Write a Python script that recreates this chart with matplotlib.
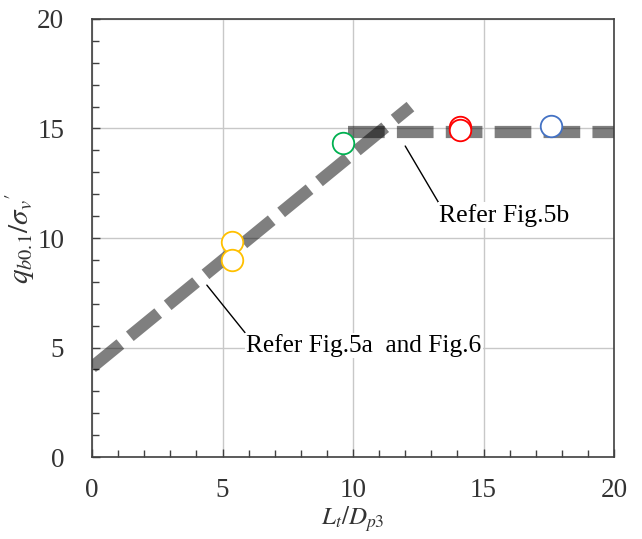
import numpy as np
import matplotlib.pyplot as plt
from matplotlib.ticker import MultipleLocator

plt.rcParams['font.family'] = ['Liberation Serif', 'DejaVu Serif']
plt.rcParams['mathtext.fontset'] = 'stix'

# measured points (Lt/Dp3, qb0.1/sigma_v')
yellow_x = [5.35, 5.35]
yellow_y = [9.82, 9.0]
green_x = [9.6]
green_y = [14.32]
red_x = [14.1, 14.1]
red_y = [15.08, 14.93]
blue_x = [17.6]
blue_y = [15.11]

# trend lines
rise_x = [0.0, 12.2]
rise_y = [4.1, 16.0]
flat_x = [9.8, 20.0]
flat_y = [14.85, 14.85]

fig = plt.figure(figsize=(6.42, 5.39), dpi=100)
ax = fig.add_axes([0.1433, 0.152, 0.8131, 0.8128])

ax.grid(True, which='major', color='#c8c8c8', linewidth=1.0, zorder=0)
ax.set_axisbelow(True)

for xs, ys in [(rise_x, rise_y), (flat_x, flat_y)]:
    ln, = ax.plot(xs, ys, color='black', alpha=0.5, linewidth=8.8,
                  solid_capstyle='butt', dash_capstyle='butt', zorder=2)
    ln.set_dashes((3.0, 1.0))

for xs, ys, c in [(yellow_x, yellow_y, '#FFC000'), (green_x, green_y, '#00B050'),
                  (red_x, red_y, '#FF0000'), (blue_x, blue_y, '#4472C4')]:
    ax.plot(xs, ys, 'o', markersize=15.5, markerfacecolor='white',
            markeredgecolor=c, markeredgewidth=1.3, linestyle='none', zorder=3)

ax.annotate('Refer Fig.5b', xy=(12.0, 14.2), xytext=(13.3, 11.05),
            fontsize=18.5, va='center', ha='left',
            arrowprops=dict(arrowstyle='-', color='black', lw=1.0,
                            shrinkA=0, shrinkB=0, relpos=(0, 1)),
            bbox=dict(facecolor='white', edgecolor='none', pad=1), zorder=4)
ax.annotate('Refer Fig.5a  and Fig.6', xy=(4.4, 7.85), xytext=(5.9, 5.1),
            fontsize=18.3, va='center', ha='left',
            arrowprops=dict(arrowstyle='-', color='black', lw=1.0,
                            shrinkA=0, shrinkB=0, relpos=(0, 1)),
            bbox=dict(facecolor='white', edgecolor='none', pad=1), zorder=4)

ax.set_xlim(0, 20)
ax.set_ylim(0, 20)
ax.xaxis.set_major_locator(MultipleLocator(5))
ax.yaxis.set_major_locator(MultipleLocator(5))
ax.xaxis.set_minor_locator(MultipleLocator(1))
ax.yaxis.set_minor_locator(MultipleLocator(1))
ax.tick_params(which='both', direction='in', color='#404040', width=1.0,
               labelsize=19.5, labelcolor='#333333')
ax.tick_params(which='major', length=6)
ax.tick_params(which='minor', length=5)
ax.tick_params(axis='x', pad=15)
ax.tick_params(axis='y', pad=20)

for s in ax.spines.values():
    s.set_color('#404040')
    s.set_linewidth(1.2)

ax.set_xlabel(r"$L_t/D_{p3}$", fontsize=18, color='#333333', labelpad=1)
ax.set_ylabel(r"$q_{b0.1}/\sigma_v{'}$", fontsize=21, color='#333333', labelpad=0)

fig.savefig('out.png', dpi=100)
